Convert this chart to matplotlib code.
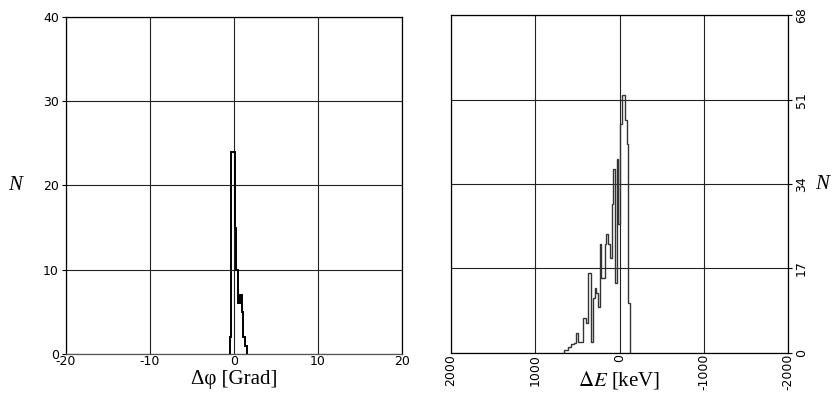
import matplotlib.pyplot as plt
import numpy as np

plt.rcParams['mathtext.fontset'] = 'stix'

# left histogram: angle deviation (degrees)
phi_edges = [-0.5, -0.3, -0.1, 0.1, 0.3, 0.5, 0.7, 0.9, 1.1, 1.3, 1.5]
phi_counts = [2, 24, 24, 15, 10, 6, 7, 5, 2, 1]

# right histogram: energy deviation (keV), edges go from high to low
e_edges = [655, 635, 615, 595, 575, 555, 535, 515, 495, 475, 455, 435, 415, 395, 375,
           355, 335, 315, 295, 275, 255, 235, 215, 195, 175, 155, 135, 115, 95, 75,
           55, 35, 15, -5, -25, -45, -65, -85, -105, -125]
e_counts = [0.5, 0.5, 1.2, 1.2, 1.8, 1.8, 2.0, 3.9, 2.2, 2.2, 2.2, 6.9, 6.9, 6.0,
            16, 16, 2.2, 11, 13, 12, 9.3, 22, 15, 15, 22, 24, 22, 19, 30, 37,
            14, 39, 26, 46, 52, 52, 47, 42, 10]

phi_ticks = [-20, -10, 0, 10, 20]
n_left_ticks = [0, 10, 20, 30, 40]
e_ticks = [2000, 1000, 0, -1000, -2000]
n_right_ticks = [0, 17, 34, 51, 68]

tick_font = 'DejaVu Sans'
label_font = 'Liberation Serif'

fig = plt.figure(figsize=(8.34, 4.08), dpi=100)

ax1 = fig.add_axes([0.0791, 0.1324, 0.4029, 0.826])
ax2 = fig.add_axes([0.5408, 0.1355, 0.4041, 0.827])

# ---- left panel
ax1.stairs(phi_counts, phi_edges, color='black', lw=1.4)
ax1.set_xlim(-20, 20)
ax1.set_ylim(0, 40)
ax1.set_xticks(phi_ticks)
ax1.set_yticks(n_left_ticks)
ax1.set_xticklabels([str(t) for t in phi_ticks], fontsize=9, family=tick_font)
ax1.set_yticklabels([str(t) for t in n_left_ticks], fontsize=9, family=tick_font)
ax1.tick_params(axis='x', length=0, pad=1)
ax1.tick_params(axis='y', length=3, width=0.8, pad=2)
ax1.grid(True, color='#222222', lw=0.8)
ax1.set_axisbelow(True)
ax1.set_xlabel('Δφ [Grad]', fontsize=15, family=label_font)
ax1.xaxis.set_label_coords(0.5, -0.077)
ax1.xaxis.label.set_va('center')
ax1.set_ylabel('N', fontsize=15, family=label_font, style='italic', rotation=0,
               va='center')
ax1.yaxis.set_label_coords(-0.152, 0.5)
ax1.spines['bottom'].set_linewidth(1.6)
ax1.spines['bottom'].set_color('#555555')

# ---- right panel
ax2.stairs(e_counts, e_edges, color='#333333', lw=1.0)
ax2.set_xlim(2000, -2000)
ax2.set_ylim(0, 68)
ax2.set_xticks(e_ticks)
ax2.set_yticks(n_right_ticks)
ax2.set_xticklabels([str(t) for t in e_ticks], fontsize=9, family=tick_font, rotation=90)
ax2.yaxis.tick_right()
ax2.set_yticklabels([str(t) for t in n_right_ticks], fontsize=9, family=tick_font,
                    rotation=90, va='center')
ax2.tick_params(axis='x', length=0, pad=1)
ax2.tick_params(axis='y', length=3, width=0.8, pad=2)
ax2.grid(True, color='#222222', lw=0.8)
ax2.set_axisbelow(True)
ax2.set_xlabel(r'$\Delta E$ [keV]', fontsize=15, family=label_font)
ax2.xaxis.set_label_coords(0.5, -0.08)
ax2.xaxis.label.set_va('center')
ax2.yaxis.set_label_position('right')
ax2.set_ylabel('N', fontsize=15, family=label_font, style='italic', rotation=0,
               va='center')
ax2.yaxis.set_label_coords(1.1, 0.5)

for ax in (ax1, ax2):
    for s in ax.spines.values():
        s.set_linewidth(0.9)

fig.savefig('out.png', dpi=100)
